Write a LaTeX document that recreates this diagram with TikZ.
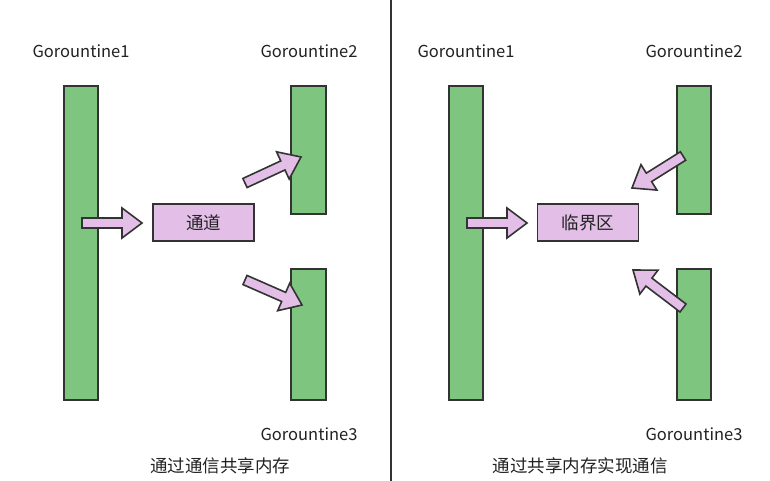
\documentclass[tikz,border=0pt]{standalone}
\usepackage{fontspec}
\setmainfont{Noto Sans CJK SC}
\usetikzlibrary{calc}
\definecolor{bargreen}{HTML}{7EC680}
\definecolor{boxpurple}{HTML}{E3BFE8}
\definecolor{edge}{HTML}{333333}
\definecolor{ink}{HTML}{222222}
\tikzset{
  gbar/.style={draw=edge, line width=1.6pt, fill=bargreen},
  memrect/.style={draw=edge, line width=1.2pt, fill=boxpurple, text=ink, minimum width=101pt, minimum height=37pt, inner sep=0pt, font=\fontsize{17.5}{19}\selectfont},
  glabel/.style={font=\fontsize{16.5}{18}\selectfont, text=ink, inner sep=0pt},
  caption/.style={font=\fontsize{17.5}{19}\selectfont, text=ink, inner sep=0pt},
  barrowstyle/.style={draw=edge, line width=1.6pt, fill=boxpurple, line join=miter},
}
\newcommand\blockarrow[2]{%
  \coordinate (ba-base) at ($(#2)!20pt!(#1)$);
  \draw[barrowstyle] ($(#1)!5pt!90:(#2)$) -- ($(ba-base)!5pt!-90:(#1)$) -- ($(ba-base)!15pt!-90:(#1)$) -- (#2) -- ($(ba-base)!15pt!90:(#1)$) -- ($(ba-base)!5pt!90:(#1)$) -- ($(#1)!5pt!-90:(#2)$) -- cycle;
}
\begin{document}
\begin{tikzpicture}[x=1pt,y=-1pt]
\useasboundingbox (0,0) rectangle (770,481);
\fill[white] (0,0) rectangle (770,481);
% divider
\draw[edge, line width=1.6pt] (391,0) -- (391,481);

% ---------- left panel ----------
\node[glabel] (l1) at (81,51) {Gorountine1};
\node[glabel] (l2) at (309,51) {Gorountine2};
\node[glabel] (l3) at (309,434) {Gorountine3};
\draw[gbar] (64,86) rectangle (98,400);
\draw[gbar] (291,86) rectangle (326,214);
\draw[gbar] (291,269) rectangle (326,400);
\node[memrect] (chan) at (203.5,222.5) {通道};
\coordinate (la-t) at (82,223);
\coordinate (la-h) at (142,223);
\blockarrow{la-t}{la-h}
\coordinate (lu-t) at (245,183);
\coordinate (lu-h) at (301,157);
\blockarrow{lu-t}{lu-h}
\coordinate (ld-t) at (245,280);
\coordinate (ld-h) at (302,305);
\blockarrow{ld-t}{ld-h}
\node[caption] (cap1) at (220,466) {通过通信共享内存};

% ---------- right panel ----------
\node[glabel] (r1) at (466,51) {Gorountine1};
\node[glabel] (r2) at (694,51) {Gorountine2};
\node[glabel] (r3) at (694,434) {Gorountine3};
\draw[gbar] (449,86) rectangle (483,400);
\draw[gbar] (677,86) rectangle (711,214);
\draw[gbar] (677,269) rectangle (711,400);
\node[memrect] (crit) at (588,222.5) {临界区};
\coordinate (ra-t) at (467,223);
\coordinate (ra-h) at (527,223);
\blockarrow{ra-t}{ra-h}
\coordinate (ru-t) at (683,156);
\coordinate (ru-h) at (632,188);
\blockarrow{ru-t}{ru-h}
\coordinate (rd-t) at (683,308);
\coordinate (rd-h) at (633,270);
\blockarrow{rd-t}{rd-h}
\node[caption] (cap2) at (580,466) {通过共享内存实现通信};
\end{tikzpicture}
\end{document}
